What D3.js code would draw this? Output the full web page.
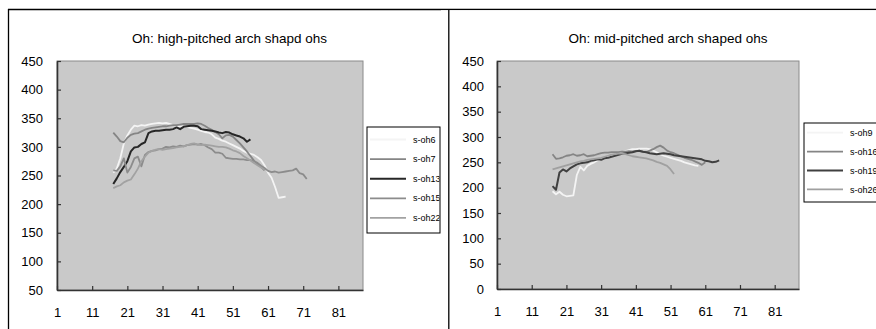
<!DOCTYPE html>
<html><head><meta charset="utf-8">
<script src="https://cdn.jsdelivr.net/npm/d3@7"></script>
<style>
html,body{margin:0;padding:0;background:#fff;}
svg text{font-family:Arial,"Liberation Sans",sans-serif;}
</style></head>
<body>
<svg id="chart" width="876" height="329"></svg>
<script>
// ---- DATA ----
const categories = Array.from({length: 88}, (_, i) => i + 1);
const xTickLabels = [1, 11, 21, 31, 41, 51, 61, 71, 81];
const leftYTicks = [50, 100, 150, 200, 250, 300, 350, 400, 450];
const rightYTicks = [0, 50, 100, 150, 200, 250, 300, 350, 400, 450];

const leftTitle = "Oh: high-pitched arch shapd ohs";
const rightTitle = "Oh: mid-pitched arch shaped ohs";
const startCategory = 17;

// left chart series (values from category 17 on)
const sOh6 = [255,262,280,306,320,330,337,336,338,337,339,340,341,342,341,342,340,338,337,336,335,335,333,332,330,328,326,325,322,316,314,311,309,306,303,300,297,293,290,288,286,282,277,268,255,246,230,211,212,213];
const sOh7 = [325,318,310,308,316,321,323,324,327,330,332,333,334,335,336,336,337,338,338,339,340,340,340,340,341,340,337,333,330,326,322,315,320,321,318,312,306,299,292,284,276,270,265,259];
const sOh13 = [235,245,256,265,275,292,299,300,305,308,324,327,328,328,329,330,330,331,334,331,335,336,337,337,336,331,330,329,328,327,325,324,326,325,322,320,318,315,309,313];
const sOh15 = [259,258,266,280,255,265,280,283,266,286,291,293,294,296,297,300,299,301,300,302,301,303,304,305,304,305,303,299,296,290,290,288,281,280,279,279,278,278,277,277,275,272,267,263,258,256,257,255,256,257,258,259,262,254,252,244];
const sOh22 = [228,231,233,238,241,243,252,262,275,283,290,293,295,296,295,296,297,298,299,300,301,303,305,306,304,303,304,303,302,301,300,300,299,297,294,292,289,284,280,276,272,268,264,260];

// right chart series (values from category 17 on)
const sOh9 = [193,187,192,186,183,184,185,225,241,234,243,247,250,254,256,258,260,262,265,268,270,272,274,276,276,277,277,277,276,273,270,266,263,261,259,257,255,253,250,248,246,244,243];
const sOh16 = [266,257,258,260,263,264,266,263,264,266,262,263,264,266,268,269,269,270,270,270,271,271,272,271,272,272,271,270,273,276,280,283,279,273,270,268,265,262,259,257,255,252,249,245,250];
const sOh19 = [203,196,230,236,232,238,242,246,248,249,250,253,254,256,255,258,259,261,263,265,267,268,269,270,272,273,271,270,268,267,266,267,268,267,266,264,263,262,261,260,259,258,257,256,253,252,250,251,254];
const sOh26 = [236,238,240,242,244,246,248,250,252,253,255,256,257,258,259,261,263,265,266,267,267,266,264,262,261,260,259,258,256,254,251,249,246,243,236,227];

const leftSeries = [
  {name: "s-oh6", values: sOh6, color: "#f4f4f4", width: 1.8},
  {name: "s-oh7", values: sOh7, color: "#858585", width: 1.8},
  {name: "s-oh13", values: sOh13, color: "#262626", width: 2},
  {name: "s-oh15", values: sOh15, color: "#8c8c8c", width: 1.8},
  {name: "s-oh22", values: sOh22, color: "#a2a2a2", width: 1.8}
];
const rightSeries = [
  {name: "s-oh9", values: sOh9, color: "#f4f4f4", width: 1.8},
  {name: "s-oh16", values: sOh16, color: "#858585", width: 1.8},
  {name: "s-oh19", values: sOh19, color: "#404040", width: 2},
  {name: "s-oh26", values: sOh26, color: "#a0a0a0", width: 1.8}
];

// ---- DRAW ----
const svg = d3.select("#chart");

// panel frames
svg.append("line").attr("x1", 8).attr("x2", 876).attr("y1", 9.5).attr("y2", 9.5)
  .attr("stroke", "#000").attr("stroke-width", 1.3);
svg.append("line").attr("x1", 8.5).attr("x2", 8.5).attr("y1", 9).attr("y2", 329)
  .attr("stroke", "#000").attr("stroke-width", 1.3);

function drawChart(cfg) {
  const g = svg.append("g");
  const x = d3.scalePoint().domain(categories).range([cfg.left, cfg.right]).padding(0);
  const y = d3.scaleLinear().domain(cfg.yDomain).range([cfg.bottom, cfg.top]);

  // plot area
  g.append("rect").attr("x", cfg.left).attr("y", cfg.top)
    .attr("width", cfg.right - cfg.left).attr("height", cfg.bottom - cfg.top)
    .attr("fill", "#c9c9c9").attr("stroke", "#8a8a8a").attr("stroke-width", 1);

  // title
  g.append("text").attr("x", cfg.titleX).attr("y", 43).attr("text-anchor", "middle")
    .attr("font-size", "13.5px").attr("fill", "#000").text(cfg.title);

  // axes
  const yAxis = d3.axisLeft(y).tickValues(cfg.yTicks).tickSizeInner(-4).tickSizeOuter(0).tickPadding(cfg.yPad);
  const ya = g.append("g").attr("transform", `translate(${cfg.left},0)`).call(yAxis);
  const xAxis = d3.axisBottom(x).tickValues(xTickLabels).tickSizeInner(-4).tickSizeOuter(0).tickPadding(17.5);
  const xa = g.append("g").attr("transform", `translate(0,${cfg.bottom})`).call(xAxis);
  [ya, xa].forEach(a => {
    a.select(".domain").attr("stroke", "#333").attr("stroke-width", 1.6);
    a.selectAll(".tick line").attr("stroke", "#333").attr("stroke-width", 1.2);
    a.selectAll(".tick text").attr("font-size", "13px").attr("fill", "#000")
      .attr("font-family", "Arial, 'Liberation Sans', sans-serif");
  });

  // lines
  const line = d3.line().x(d => x(d.c)).y(d => y(d.v));
  cfg.series.forEach(s => {
    const pts = s.values.map((v, i) => ({c: categories[startCategory - 1 + i], v}));
    g.append("path").datum(pts).attr("d", line).attr("fill", "none")
      .attr("stroke", s.color).attr("stroke-width", s.width).attr("stroke-linejoin", "round");
  });

  // legend
  const lg = g.append("g");
  lg.append("rect").attr("x", cfg.leg.x).attr("y", cfg.leg.y).attr("width", cfg.leg.w).attr("height", cfg.leg.h)
    .attr("fill", "#fff").attr("stroke", "#000").attr("stroke-width", 1);
  const clipId = "clip" + cfg.id;
  g.append("clipPath").attr("id", clipId).append("rect")
    .attr("x", cfg.leg.x).attr("y", cfg.leg.y).attr("width", cfg.leg.w - 0.5).attr("height", cfg.leg.h);
  const items = lg.append("g").attr("clip-path", `url(#${clipId})`);
  cfg.series.forEach((s, i) => {
    const yy = cfg.leg.firstY + i * cfg.leg.step;
    items.append("line").attr("x1", cfg.leg.x + 3).attr("x2", cfg.leg.x + 39).attr("y1", yy).attr("y2", yy)
      .attr("stroke", s.color).attr("stroke-width", s.width);
    items.append("text").attr("x", cfg.leg.x + 46).attr("y", yy).attr("dy", "0.35em")
      .attr("font-size", "9px").attr("fill", "#000").text(s.name);
  });
}

drawChart({
  id: "L", left: 57, right: 363, top: 61, bottom: 290, yDomain: [50, 450], yTicks: leftYTicks, yPad: 14,
  title: leftTitle, titleX: 229.5, series: leftSeries,
  leg: {x: 367, y: 127, w: 73, h: 106, firstY: 139.5, step: 19.6}
});

// right panel background & frame
svg.append("rect").attr("x", 441).attr("y", 10.2).attr("width", 435).attr("height", 319).attr("fill", "#fff");
svg.append("line").attr("x1", 448.8).attr("x2", 448.8).attr("y1", 9).attr("y2", 329)
  .attr("stroke", "#000").attr("stroke-width", 1.3);

drawChart({
  id: "R", left: 497, right: 799, top: 61, bottom: 289, yDomain: [0, 450], yTicks: rightYTicks, yPad: 13,
  title: rightTitle, titleX: 668, series: rightSeries,
  leg: {x: 804, y: 123, w: 90, h: 79, firstY: 132.7, step: 18.9}
});
</script>
</body></html>
